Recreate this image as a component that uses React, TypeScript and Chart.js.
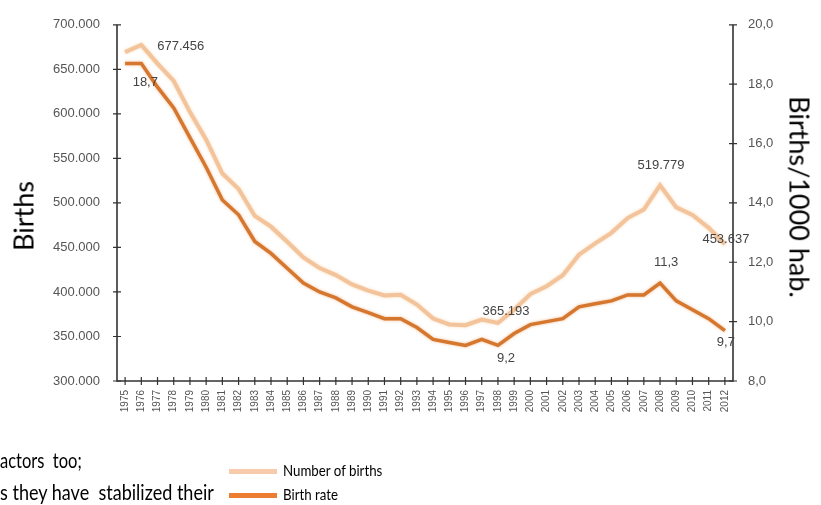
import { useEffect, useRef } from 'react';
import { Chart, registerables } from 'chart.js';

Chart.register(...registerables);

const years = [
  '1975', '1976', '1977', '1978', '1979', '1980', '1981', '1982', '1983', '1984',
  '1985', '1986', '1987', '1988', '1989', '1990', '1991', '1992', '1993', '1994',
  '1995', '1996', '1997', '1998', '1999', '2000', '2001', '2002', '2003', '2004',
  '2005', '2006', '2007', '2008', '2009', '2010', '2011', '2012',
];

const births = [
  669378, 677456, 656357, 636892, 601992, 571018, 533008, 515706, 485352, 473281,
  456298, 438750, 426782, 418919, 408434, 401425, 395989, 396747, 385786, 370148,
  363469, 362626, 369035, 365193, 380130, 397632, 406380, 418846, 441881, 454591,
  466371, 482957, 492527, 519779, 494997, 486575, 471999, 453637,
];

const birthRate = [
  18.7, 18.7, 17.9, 17.2, 16.2, 15.2, 14.1, 13.6, 12.7, 12.3,
  11.8, 11.3, 11.0, 10.8, 10.5, 10.3, 10.1, 10.1, 9.8, 9.4,
  9.3, 9.2, 9.4, 9.2, 9.6, 9.9, 10.0, 10.1, 10.5, 10.6,
  10.7, 10.9, 10.9, 11.3, 10.7, 10.4, 10.1, 9.7,
];

const birthsAxis = [300000, 700000, 50000];
const rateAxis = [8, 20, 2];

const labelledBirths = [1, 23, 33, 37];
const labelledRate = [1, 23, 33, 37];

const seriesNames = ['Number of births', 'Birth rate'];
const axisTitles = ['Births', 'Births/1000 hab.'];
const slideLines = ['actors\u00a0 too;', 's they have\u00a0 stabilized their'];

// label placement styles (offsets from the point)
const birthsLabelStyle: Record<number, [number, number, CanvasTextAlign]> = {
  1: [16, 2, 'left'],
  23: [8, -12, 'center'],
  33: [1, -20, 'center'],
  37: [1, -5, 'center'],
};
const rateLabelStyle: Record<number, [number, number, CanvasTextAlign]> = {
  1: [4, 19, 'center'],
  23: [8, 13, 'center'],
  33: [6, -21, 'center'],
  37: [1, 12, 'center'],
};

const fmtBirths = (v: number) => v.toLocaleString('de-DE');
const fmtRate = (v: number) => v.toFixed(1).replace('.', ',');

const BIRTHS_COLOR = '#F3C49B';
const RATE_COLOR = '#D5772E';

const overlayPlugin = {
  id: 'overlay',
  beforeDatasetsDraw(chart: any) {
    const ctx = chart.ctx;
    const { left, right, top, bottom } = chart.chartArea;
    ctx.save();
    ctx.strokeStyle = '#333';
    ctx.lineWidth = 1.6;
    ctx.beginPath();
    ctx.moveTo(left, top);
    ctx.lineTo(left, bottom);
    ctx.lineTo(right, bottom);
    ctx.lineTo(right, top);
    ctx.stroke();
    ctx.lineWidth = 1.2;
    const y1 = chart.scales.y1;
    const y2 = chart.scales.y2;
    const x = chart.scales.x;
    ctx.beginPath();
    y1.ticks.forEach((t: any) => {
      const py = y1.getPixelForValue(t.value);
      ctx.moveTo(left - 4, py);
      ctx.lineTo(left + 4, py);
    });
    y2.ticks.forEach((t: any) => {
      const py = y2.getPixelForValue(t.value);
      ctx.moveTo(right - 4, py);
      ctx.lineTo(right + 4, py);
    });
    years.forEach((_, i) => {
      const px = x.getPixelForValue(i);
      ctx.moveTo(px, bottom - 4);
      ctx.lineTo(px, bottom + 4);
    });
    ctx.stroke();
    ctx.restore();
  },
  afterDatasetsDraw(chart: any) {
    const ctx = chart.ctx;
    ctx.save();
    ctx.font = '13px "Liberation Sans", Arial, sans-serif';
    ctx.fillStyle = '#444';
    ctx.textBaseline = 'middle';
    const m0 = chart.getDatasetMeta(0);
    const m1 = chart.getDatasetMeta(1);
    labelledBirths.forEach((i) => {
      const p = m0.data[i];
      const [dx, dy, al] = birthsLabelStyle[i];
      ctx.textAlign = al;
      ctx.fillText(fmtBirths(births[i]), p.x + dx, p.y + dy);
    });
    labelledRate.forEach((i) => {
      const p = m1.data[i];
      const [dx, dy, al] = rateLabelStyle[i];
      ctx.textAlign = al;
      ctx.fillText(fmtRate(birthRate[i]), p.x + dx, p.y + dy);
    });
    ctx.restore();
  },
};

const shadowPlugin = {
  id: 'lineglow',
  beforeDatasetDraw(chart: any, args: any) {
    const ctx = chart.ctx;
    ctx.save();
    ctx.shadowColor = args.index === 0 ? 'rgba(245,200,150,0.7)' : 'rgba(230,140,70,0.6)';
    ctx.shadowBlur = 3;
  },
  afterDatasetDraw(chart: any) {
    chart.ctx.restore();
  },
};

export default function App() {
  const ref = useRef<HTMLCanvasElement | null>(null);

  useEffect(() => {
    if (!ref.current) return;
    const tickFont = { family: '"Liberation Sans", Arial, sans-serif', size: 13 };
    const chart = new Chart(ref.current, {
      type: 'line',
      data: {
        labels: years,
        datasets: [
          {
            label: seriesNames[0],
            data: births,
            yAxisID: 'y1',
            borderColor: BIRTHS_COLOR,
            borderWidth: 4,
            pointRadius: 0,
            tension: 0,
          },
          {
            label: seriesNames[1],
            data: birthRate,
            yAxisID: 'y2',
            borderColor: RATE_COLOR,
            borderWidth: 3.5,
            pointRadius: 0,
            tension: 0,
          },
        ],
      },
      options: {
        animation: false,
        responsive: false,
        maintainAspectRatio: false,
        layout: { padding: { top: 20, left: 0, right: 0, bottom: 0 } },
        plugins: { legend: { display: false }, tooltip: { enabled: false } },
        scales: {
          x: {
            offset: true,
            grid: { display: false, drawTicks: false },
            border: { display: false },
            ticks: {
              autoSkip: false,
              minRotation: 90,
              maxRotation: 90,
              padding: 9,
              color: '#555',
              font: { family: '"Liberation Sans", Arial, sans-serif', size: 10 },
            },
            afterFit: (s: any) => { s.height = 124; },
          },
          y1: {
            position: 'left',
            min: birthsAxis[0],
            max: birthsAxis[1],
            ticks: {
              stepSize: birthsAxis[2],
              padding: 17,
              color: '#555',
              font: tickFont,
              callback: (v: any) => fmtBirths(Number(v)),
            },
            grid: { display: false, drawTicks: false },
            border: { display: false },
            afterFit: (s: any) => { s.width = 117; },
          },
          y2: {
            position: 'right',
            min: rateAxis[0],
            max: rateAxis[1],
            ticks: {
              stepSize: rateAxis[2],
              padding: 15,
              color: '#555',
              font: tickFont,
              callback: (v: any) => fmtRate(Number(v)),
            },
            grid: { display: false, drawTicks: false },
            border: { display: false },
            afterFit: (s: any) => { s.width = 88; },
          },
        },
      },
      plugins: [overlayPlugin, shadowPlugin],
    });
    return () => chart.destroy();
  }, []);

  const slideFont = 'Lato, "Noto Sans", sans-serif';
  const txt = (extra: any) => ({
    position: 'absolute' as const,
    fontFamily: slideFont,
    color: '#000',
    whiteSpace: 'nowrap' as const,
    lineHeight: 1,
    ...extra,
  });

  return (
    <div style={{ position: 'fixed', left: 0, top: 0, width: 821, height: 505, overflow: 'hidden', background: '#fff' }}>
      <canvas ref={ref} width={821} height={505} style={{ position: 'absolute', left: 0, top: 0 }} />
      <div style={txt({ left: 23, top: 216, fontSize: 27, transform: 'translate(-50%, -50%) rotate(-90deg)' })}>
        {axisTitles[0]}
      </div>
      <div style={txt({ left: 800, top: 197, fontSize: 27, transform: 'translate(-50%, -50%) rotate(90deg)' })}>
        {axisTitles[1]}
      </div>
      <div style={txt({ left: 0, top: 449, fontSize: 22, transform: 'scaleX(0.75)', transformOrigin: '0 0' })}>
        {slideLines[0]}
      </div>
      <div style={txt({ left: 0, top: 481, fontSize: 22, transform: 'scaleX(0.82)', transformOrigin: '0 0' })}>
        {slideLines[1]}
      </div>
      <div style={{ position: 'absolute', left: 229, top: 469, width: 48, height: 5, background: '#F8CBAD' }} />
      <div style={{ position: 'absolute', left: 229, top: 493, width: 48, height: 5, background: '#ED7D31' }} />
      <div style={txt({ left: 283, top: 462, fontSize: 16, transform: 'scaleX(0.83)', transformOrigin: '0 0' })}>
        {seriesNames[0]}
      </div>
      <div style={txt({ left: 283, top: 486, fontSize: 16, transform: 'scaleX(0.83)', transformOrigin: '0 0' })}>
        {seriesNames[1]}
      </div>
    </div>
  );
}
